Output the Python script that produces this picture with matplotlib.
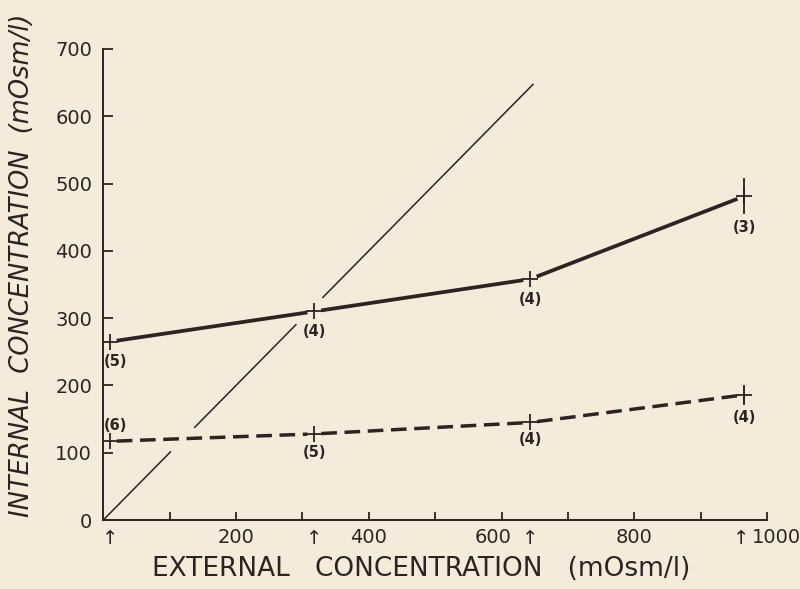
import matplotlib
matplotlib.use("Agg")
import matplotlib.pyplot as plt
from matplotlib.transforms import ScaledTranslation

# ---- data ----
solid_x = [10, 318, 643, 965]
solid_y = [265, 310, 358, 481]
solid_err = [0, 0, 0, 27]
solid_n = ["(5)", "(4)", "(4)", "(3)"]

dash_x = [10, 318, 643, 965]
dash_y = [117, 128, 145, 186]
dash_err = [0, 0, 0, 15]
dash_n = ["(6)", "(5)", "(4)", "(4)"]

iso_x = [0, 648]
iso_y = [0, 648]

xticks_major = [200, 400, 600, 800, 1000]
xticks_all = [100, 200, 300, 400, 500, 600, 700, 800, 900, 1000]
yticks = [0, 100, 200, 300, 400, 500, 600, 700]
arrow_x = [10, 318, 643, 965]

BG = "#f6ebda"
INK = "#2b2421"

fig = plt.figure(figsize=(8, 5.89), dpi=100, facecolor=BG)
ax = fig.add_axes([0.129, 0.117, 0.830, 0.800], facecolor=BG)
ax.set_xlim(0, 1000)
ax.set_ylim(0, 700)

# isosmotic line with gaps at crossings
gaps = [(102, 137), (291, 330)]
segs = []
start = iso_x[0]
for g0, g1 in gaps:
    segs.append((start, g0))
    start = g1
segs.append((start, iso_x[1]))
slope = (iso_y[1] - iso_y[0]) / (iso_x[1] - iso_x[0])
for a, b in segs:
    ax.plot([a, b], [iso_y[0] + slope * (a - iso_x[0]), iso_y[0] + slope * (b - iso_x[0])],
            color=INK, lw=1.1, solid_capstyle="butt")

# connecting segments, shrunk near markers
def connect(xs, ys, ls, lw):
    for i in range(len(xs) - 1):
        ax.annotate("", xy=(xs[i + 1], ys[i + 1]), xytext=(xs[i], ys[i]),
                    arrowprops=dict(arrowstyle="-", shrinkA=5, shrinkB=5,
                                    lw=lw, color=INK, linestyle=ls,
                                    capstyle="butt"))

connect(solid_x, solid_y, "-", 2.7)
connect(dash_x, dash_y, (0, (4.5, 2.2)), 2.5)

for xs, ys, es in [(solid_x, solid_y, solid_err), (dash_x, dash_y, dash_err)]:
    ax.errorbar(xs, ys, yerr=es, fmt="+", color=INK, ms=11, mew=1.3,
                elinewidth=1.3, capsize=0, zorder=5)

# sample size labels
solid_off = [(8, -30), (0, -30), (0, -30), (0, -47)]
dash_off = [(8, 23), (0, -28), (0, -25), (0, -33)]
for x, y, n, (dx, dy) in zip(solid_x, solid_y, solid_n, solid_off):
    ax.text(x + dx, y + dy, n, ha="center", va="center", fontsize=10.5,
            color=INK, fontweight="semibold")
for x, y, n, (dx, dy) in zip(dash_x, dash_y, dash_n, dash_off):
    ax.text(x + dx, y + dy, n, ha="center", va="center", fontsize=10.5,
            color=INK, fontweight="semibold")

# axes styling
for s in ["top", "right"]:
    ax.spines[s].set_visible(False)
for s in ["left", "bottom"]:
    ax.spines[s].set_color(INK)
    ax.spines[s].set_linewidth(1.4)

ax.set_xticks(xticks_all)
ax.set_xticklabels([str(t) if t in xticks_major else "" for t in xticks_all])
ax.set_yticks(yticks)
ax.tick_params(axis="both", direction="in", colors=INK, width=1.3, labelsize=14)
ax.tick_params(axis="x", length=6, pad=6)
ax.tick_params(axis="y", length=7, pad=8)

# nudge labels that sit beside the arrows
shifts = {600: -6 / 72, 1000: 7 / 72}
for t, lab in zip(xticks_all, ax.get_xticklabels()):
    if t in shifts:
        lab.set_transform(lab.get_transform() +
                          ScaledTranslation(shifts[t], 0, fig.dpi_scale_trans))

arrow_shift = [0, 0, 0, -2 / 72]
for xa, sh in zip(arrow_x, arrow_shift):
    ax.text(xa, -0.018, "\u2191",
            transform=ax.get_xaxis_transform() + ScaledTranslation(sh, 0, fig.dpi_scale_trans),
            ha="center", va="top", fontsize=14, color=INK)

ax.set_xlabel("EXTERNAL   CONCENTRATION   (mOsm/l)", fontsize=19, color=INK,
              va="top")
ax.xaxis.set_label_coords(0.479, -0.076)
ax.set_ylabel("INTERNAL  CONCENTRATION  (mOsm/l)", fontsize=18.5, color=INK,
              style="italic", va="center")
ax.yaxis.set_label_coords(-0.122, 0.541)

fig.savefig("out.png", dpi=100, facecolor=BG)
